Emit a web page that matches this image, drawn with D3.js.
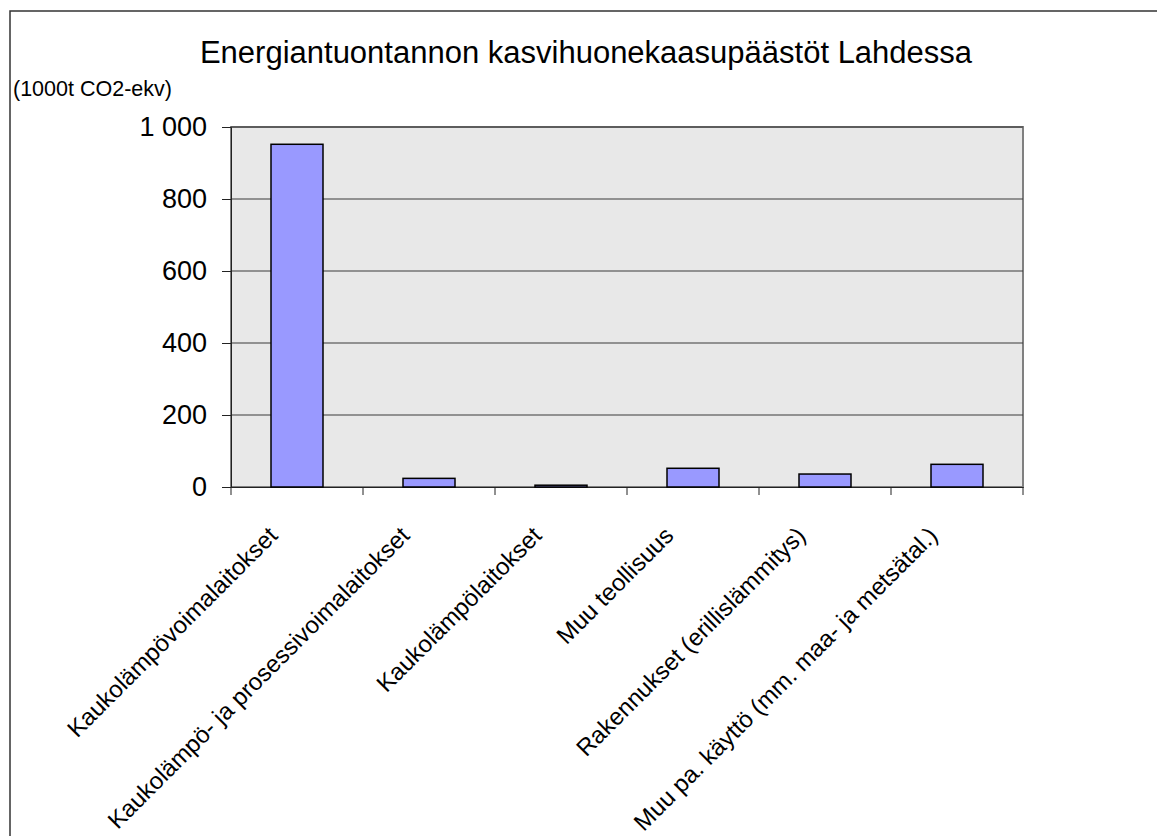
<!DOCTYPE html>
<html>
<head>
<meta charset="utf-8">
<script src="https://cdn.jsdelivr.net/npm/d3@7"></script>
<style>
  body { margin: 0; background: #fff; }
  svg { font-family: Arial, 'Liberation Sans', sans-serif; }
</style>
</head>
<body>
<div id="chart"></div>
<script>
// DATA
let categories = [
  'Kaukolämpövoimalaitokset',
  'Kaukolämpö- ja prosessivoimalaitokset',
  'Kaukolämpölaitokset',
  'Muu teollisuus',
  'Rakennukset (erillislämmitys)',
  'Muu pa. käyttö (mm. maa- ja metsätal.)'
]
let emissions = [952, 24, 5, 52, 36, 63]
let yTicks = [0, 200, 400, 600, 800, 1000]

// CHART SETUP
let width = 1157, height = 836
let plot = { left: 231, right: 1023, top: 127, bottom: 487 }

let svg = d3.select('#chart')
  .append('svg')
  .attr('width', width)
  .attr('height', height)

// outer chart border (runs off the picture right and bottom)
svg.append('rect')
  .attr('x', 10).attr('y', 11)
  .attr('width', 1200).attr('height', 900)
  .attr('fill', 'none')
  .attr('stroke', '#333')
  .attr('stroke-width', 1.5)

let x = d3.scaleBand()
  .domain(categories)
  .range([plot.left, plot.right])
  .paddingInner(0)
  .paddingOuter(0)

let y = d3.scaleLinear()
  .domain([0, 1000])
  .range([plot.bottom, plot.top])

// plot background
svg.append('rect')
  .attr('x', plot.left).attr('y', plot.top)
  .attr('width', plot.right - plot.left)
  .attr('height', plot.bottom - plot.top)
  .attr('fill', '#e8e8e8')
  .attr('stroke', '#808080')
  .attr('stroke-width', 2)

// gridlines
svg.selectAll('.grid')
  .data(yTicks.filter(d => d > 0))
  .enter().append('line')
  .attr('class', 'grid')
  .attr('x1', plot.left).attr('x2', plot.right)
  .attr('y1', d => y(d)).attr('y2', d => y(d))
  .attr('stroke', '#3a3a3a')
  .attr('stroke-width', 1)

// y axis
let yAxis = svg.append('g')
  .attr('transform', 'translate(' + plot.left + ',0)')
  .call(d3.axisLeft(y).tickValues(yTicks).tickSize(9).tickPadding(15)
    .tickFormat(d => d3.format(',')(d).replace(',', ' ')))
yAxis.select('.domain').attr('stroke', '#222')
yAxis.selectAll('.tick line').attr('stroke', '#222')
yAxis.selectAll('.tick text')
  .style('font-size', '27px')
  .style('font-family', 'Arial, Liberation Sans, sans-serif')
  .attr('fill', '#000')

// x axis
let xAxis = svg.append('g')
  .attr('transform', 'translate(0,' + plot.bottom + ')')
  .call(d3.axisBottom(x).tickSize(0).tickFormat(''))
xAxis.select('.domain').attr('stroke', '#222')

// tick marks between categories
let tickPos = categories.map(c => x(c)).concat([x(categories[categories.length - 1]) + x.bandwidth()])
svg.selectAll('.xtick')
  .data(tickPos)
  .enter().append('line')
  .attr('class', 'xtick')
  .attr('x1', d => d).attr('x2', d => d)
  .attr('y1', plot.bottom).attr('y2', plot.bottom + 8)
  .attr('stroke', '#222')

// bars
let barW = 52
svg.selectAll('.bar')
  .data(emissions)
  .enter().append('rect')
  .attr('class', 'bar')
  .attr('x', (d, i) => x(categories[i]) + x.bandwidth() / 2 - barW / 2)
  .attr('y', d => y(d))
  .attr('width', barW)
  .attr('height', d => y(0) - y(d))
  .attr('fill', '#9999ff')
  .attr('stroke', '#000')
  .attr('stroke-width', 1.5)

// category labels, rotated
svg.selectAll('.xlabel')
  .data(categories)
  .enter().append('text')
  .attr('class', 'xlabel')
  .attr('transform', d => 'translate(' + (x(d) + x.bandwidth() / 2 - 18) + ',' + (plot.bottom + 50) + ') rotate(-45)')
  .attr('text-anchor', 'end')
  .style('font-size', '24px')
  .text(d => d)

// title
svg.append('text')
  .attr('x', 586).attr('y', 63)
  .attr('text-anchor', 'middle')
  .style('font-size', '31px')
  .text('Energiantuontannon kasvihuonekaasupäästöt Lahdessa')

// unit label
svg.append('text')
  .attr('x', 13).attr('y', 96)
  .style('font-size', '21.5px')
  .text('(1000t CO2-ekv)')
</script>
</body>
</html>
